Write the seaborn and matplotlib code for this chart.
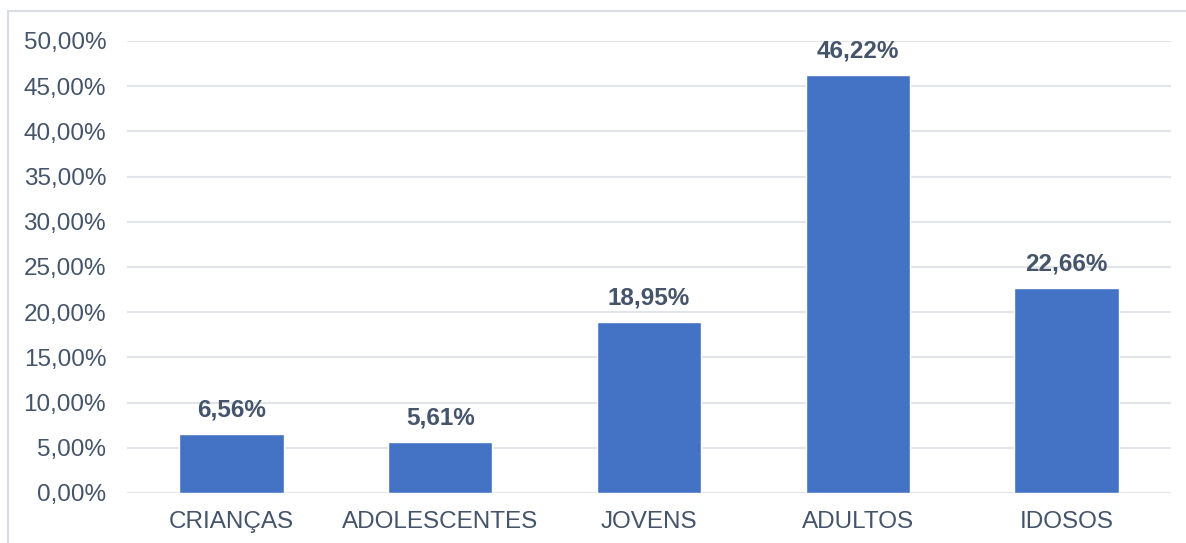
import matplotlib
matplotlib.use("Agg")
import matplotlib.pyplot as plt
import seaborn as sns
import pandas as pd
from matplotlib.patches import Rectangle

# dados do gráfico
categorias = ["CRIANÇAS", "ADOLESCENTES", "JOVENS", "ADULTOS", "IDOSOS"]
valores = [6.56, 5.61, 18.95, 46.22, 22.66]
rotulos = ["6,56%", "5,61%", "18,95%", "46,22%", "22,66%"]
yticks = [0, 5, 10, 15, 20, 25, 30, 35, 40, 45, 50]
ytick_labels = ["0,00%", "5,00%", "10,00%", "15,00%", "20,00%", "25,00%",
                "30,00%", "35,00%", "40,00%", "45,00%", "50,00%"]

df = pd.DataFrame({"categoria": categorias, "valor": valores})

sns.set_theme(style="white")
plt.rcParams["font.family"] = ["Liberation Sans", "DejaVu Sans"]

texto = "#44546A"
grade = "#E1E4E8"

fig = plt.figure(figsize=(11.86, 5.43), dpi=100)
ax = fig.add_axes([0.1071, 0.0921, 0.8803, 0.8324])

sns.barplot(data=df, x="categoria", y="valor", color="#4472C4",
            saturation=1, width=0.5, ax=ax, zorder=3)

ax.set_ylim(0, 50)
ax.set_yticks(yticks)
ax.set_yticklabels(ytick_labels)
ax.yaxis.grid(True, color=grade, linewidth=1.5, zorder=0)
ax.set_axisbelow(True)
ax.tick_params(axis="both", length=0, labelsize=17.5, colors=texto)
ax.tick_params(axis="y", pad=15)
ax.tick_params(axis="x", pad=13)
ax.set_xlabel("")
ax.set_ylabel("")
for s in ax.spines.values():
    s.set_visible(False)

for p, lab in zip(ax.patches, rotulos):
    ax.annotate(lab, (p.get_x() + p.get_width() / 2, p.get_height()),
                xytext=(0, 9), textcoords="offset points",
                ha="center", va="bottom", fontsize=17.5, fontweight="bold",
                color=texto)

# moldura do gráfico
fig.patches.append(Rectangle((8 / 1186, -0.05), 1.1, 0.05 + 1 - 11 / 543,
                             transform=fig.transFigure, fill=False,
                             edgecolor="#D9DDE3", linewidth=1.5))

fig.savefig("out.png", dpi=100, facecolor="white")
